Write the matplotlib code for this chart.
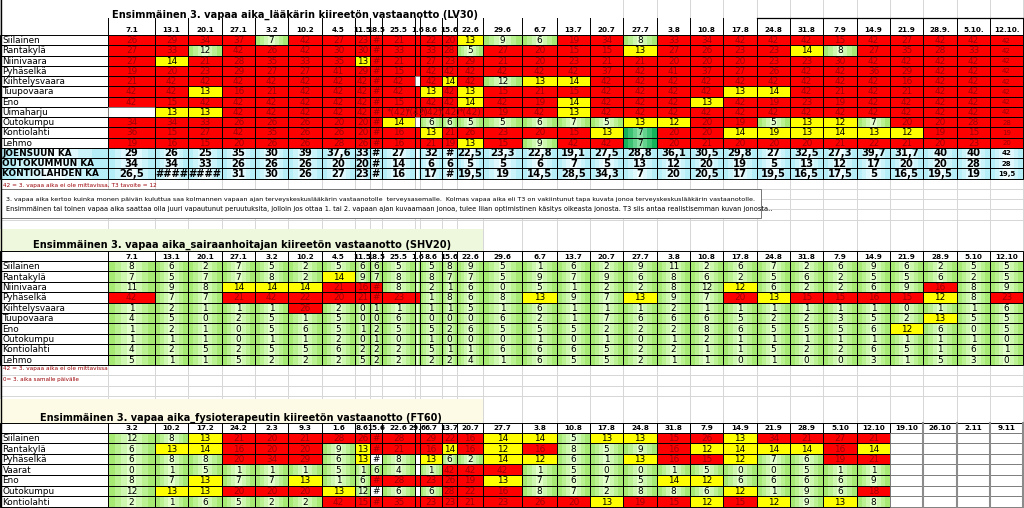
import matplotlib
matplotlib.use("Agg")
import matplotlib.pyplot as plt
import numpy as np
from matplotlib.colors import to_rgb
from matplotlib.patches import Rectangle
from matplotlib.transforms import Bbox

plt.rcParams["font.family"] = ["DejaVu Sans"]

# -----
# DATA
# -----
title_lv30 = "Ensimmäinen 3. vapaa aika_lääkärin kiireetön vastaanotto (LV30)"
title_shv20 = "Ensimmäinen 3. vapaa aika_sairaanhoitajan kiireetön vastaanotto (SHV20)"
title_ft60 = "Ensimmäinen 3. vapaa aika_fysioterapeutin kiireetön vastaanotto (FT60)"

dates_lv30 = ["7.1", "13.1", "20.1", "27.1", "3.2", "10.2", "4.5", "11.5", "18.5", "25.5", "1.6", "8.6", "15.6",
              "22.6", "29.6", "6.7", "13.7", "20.7", "27.7", "3.8", "10.8", "17.8", "24.8", "31.8", "7.9", "14.9",
              "21.9", "28.9.", "5.10.", "12.10."]
names_lv30 = ["Siilainen", "Rantakylä", "Niinivaara", "Pyhäselkä", "Kiihtelysvaara", "Tuupovaara", "Eno",
              "Uimaharju", "Outokumpu", "Kontiolahti", "Lehmo"]
values_lv30 = [
    ["26", "29", "34", "37", "7", "42", "27", "23", "#", "21", "", "22", "20", "13", "9", "6", "19", "34", "8", "33", "34", "42", "42", "42", "15", "42", "27", "42", "42", "42"],
    ["27", "33", "12", "42", "26", "42", "30", "30", "#", "33", "", "33", "28", "5", "27", "20", "15", "15", "13", "27", "26", "23", "23", "14", "8", "27", "35", "28", "33", "42"],
    ["27", "14", "21", "28", "35", "33", "35", "13", "#", "21", "", "27", "23", "29", "21", "20", "23", "21", "21", "20", "20", "20", "23", "23", "30", "42", "42", "42", "42", "42"],
    ["19", "20", "23", "29", "27", "27", "41", "29", "#", "15", "", "42", "42", "42", "42", "42", "42", "37", "42", "41", "37", "27", "26", "42", "42", "36", "29", "42", "42", "42"],
    ["21", "42", "42", "42", "42", "42", "42", "42", "#", "42", None, "42", "14", "42", "12", "13", "14", "42", "42", "42", "42", "42", "42", "42", "42", "42", "16", "42", "42", "42"],
    ["42", "42", "13", "16", "21", "42", "42", "42", "#", "42", "", "13", "42", "13", "15", "21", "15", "42", "42", "42", "42", "13", "14", "42", "21", "42", "21", "42", "42", "42"],
    ["42", "15", "42", "42", "42", "42", "42", "42", "#", "15", "", "42", "42", "14", "42", "19", "14", "42", "42", "42", "13", "42", "19", "23", "19", "42", "42", "42", "42", "42"],
    [None, "13", "13", "42", "42", "42", "42", "42", "#", "*(42)", "*(42)", "*(42)", "*(42)", "*(42)", "19", "42", "13", "42", "42", "42", "42", "42", "42", "42", "42", "42", "42", "42", "42", "42"],
    ["34", "34", "33", "26", "26", "26", "20", "20", "#", "14", None, "6", "6", "5", "5", "6", "7", "5", "13", "12", "20", "19", "5", "13", "12", "7", "20", "20", "28", "28"],
    ["36", "15", "27", "42", "35", "26", "26", "20", "#", "16", "", "13", "21", "26", "23", "20", "15", "13", "7", "20", "20", "14", "19", "13", "14", "13", "12", "19", "15", "19"],
    ["19", "16", "15", "20", "26", "26", "28", "26", "#", "16", "", "21", "19", "13", "15", "9", "42", "42", "7", "20", "21", "20", "20", "20", "21", "22", "21", "20", "23", "20"],
]
names_ka = ["JOENSUUN KA", "OUTOKUMMUN KA", "KONTIOLAHDEN KA"]
values_ka = [
    ["29", "26", "25", "35", "30", "39", "37,6", "33", "#", "27", "", "32", "#", "22,5", "23,3", "22,8", "19,1", "27,5", "28,8", "36,1", "30,5", "29,8", "27", "32,5", "27,3", "39,7", "31,7", "40", "40", "42"],
    ["34", "34", "33", "26", "26", "26", "20", "20", "#", "14", "", "6", "6", "5", "5", "6", "7", "5", "13", "12", "20", "19", "5", "13", "12", "17", "20", "20", "28", "28"],
    ["26,5", "####", "####", "31", "30", "26", "27", "23", "#", "16", "", "17", "#", "19,5", "19", "14,5", "28,5", "34,3", "7", "20", "20,5", "17", "19,5", "16,5", "17,5", "5", "16,5", "19,5", "19", "19,5"],
]

dates_shv20 = ["7.1", "13.1", "20.1", "27.1", "3.2", "10.2", "4.5", "11.5", "18.5", "25.5", "1.6", "8.6", "15.6",
               "22.6", "29.6", "6.7", "13.7", "20.7", "27.7", "3.8", "10.8", "17.8", "24.8", "31.8", "7.9", "14.9",
               "21.9", "28.9", "5.10", "12.10"]
names_shv20 = ["Siilainen", "Rantakylä", "Niinivaara", "Pyhäselkä", "Kiihtelysvaara", "Tuupovaara", "Eno",
               "Outokumpu", "Kontiolahti", "Lehmo"]
values_shv20 = [
    ["8", "6", "2", "7", "5", "2", "5", "6", "6", "5", "", "5", "8", "9", "5", "1", "6", "2", "9", "11", "2", "6", "7", "2", "6", "9", "6", "2", "5", "5"],
    ["7", "5", "7", "7", "8", "2", "14", "9", "7", "8", "", "8", "7", "7", "5", "9", "7", "9", "6", "8", "6", "2", "5", "6", "2", "5", "5", "6", "2", "5"],
    ["11", "9", "8", "14", "14", "14", "21", "16", "#", "8", "", "2", "1", "6", "0", "5", "1", "2", "2", "8", "12", "12", "6", "2", "2", "6", "9", "16", "8", "9"],
    ["42", "7", "7", "21", "42", "22", "20", "21", "#", "23", "", "1", "8", "6", "8", "13", "9", "7", "13", "9", "7", "20", "13", "15", "15", "16", "15", "12", "8", "23"],
    ["1", "2", "1", "1", "1", "26", "2", "0", "1", "1", "", "1", "1", "5", "1", "6", "1", "1", "1", "2", "1", "1", "1", "1", "1", "1", "0", "1", "1", "6"],
    ["4", "5", "0", "2", "5", "1", "5", "0", "0", "6", "", "0", "0", "0", "6", "2", "1", "7", "6", "6", "6", "5", "2", "2", "3", "5", "2", "13", "5", "5"],
    ["1", "2", "1", "0", "5", "6", "5", "1", "2", "5", "", "5", "2", "6", "5", "5", "5", "2", "2", "2", "8", "6", "5", "5", "5", "6", "12", "6", "0", "5"],
    ["1", "1", "1", "0", "1", "1", "2", "0", "1", "0", "", "1", "0", "0", "0", "1", "0", "1", "0", "1", "2", "1", "1", "1", "1", "1", "1", "1", "1", "0"],
    ["4", "2", "5", "2", "5", "5", "6", "2", "2", "2", "", "5", "1", "1", "6", "6", "6", "5", "2", "2", "1", "1", "5", "2", "2", "6", "5", "1", "6", "1"],
    ["5", "1", "1", "5", "2", "2", "2", "5", "2", "2", "", "2", "2", "4", "1", "6", "5", "5", "2", "1", "1", "0", "1", "0", "0", "3", "1", "5", "3", "0"],
]

dates_ft60 = ["3.2", "10.2", "17.2", "24.2", "2.3", "9.3", "1.6", "8.6", "15.6", "22.6", "29.6", "6.7", "13.7",
              "20.7", "27.7", "3.8", "10.8", "17.8", "24.8", "31.8", "7.9", "14.9", "21.9", "28.9", "5.10", "12.10",
              "19.10", "26.10", "2.11", "9.11"]
names_ft60 = ["Siilainen", "Rantakylä", "Pyhäselkä", "Vaarat", "Eno", "Outokumpu", "Kontiolahti"]
values_ft60 = [
    ["12", "8", "13", "21", "20", "21", "28", "26", "#", "28", "", "29", "22", "16", "14", "14", "5", "13", "13", "15", "26", "13", "34", "21", "27", "21", None, None, None, None],
    ["6", "13", "14", "16", "20", "20", "9", "13", "#", "21", "", "16", "14", "16", "12", "16", "8", "5", "9", "16", "12", "14", "14", "14", "16", "14", None, None, None, None],
    ["6", "8", "8", "20", "34", "29", "6", "13", "#", "8", "", "13", "6", "2", "14", "12", "6", "1", "13", "16", "15", "12", "7", "6", "19", "21", None, None, None, None],
    ["0", "1", "5", "1", "1", "1", "5", "1", "6", "4", "", "1", "42", "42", "42", "1", "5", "0", "0", "1", "5", "0", "0", "5", "1", "1", None, None, None, None],
    ["8", "7", "13", "7", "7", "13", "1", "6", "#", "28", "", "23", "26", "19", "13", "7", "6", "7", "5", "14", "12", "6", "6", "6", "6", "9", None, None, None, None],
    ["12", "13", "13", "20", "20", "20", "13", "12", "#", "6", "", "6", "28", "22", "16", "8", "7", "2", "8", "8", "6", "12", "1", "9", "6", "18", None, None, None, None],
    ["2", "1", "6", "5", "2", "2", "42", "15", "#", "35", "", "23", "23", "21", "23", "26", "20", "13", "19", "15", "12", "15", "12", "9", "13", "8", None, None, None, None],
]

note_lv30 = "42 = 3. vapaa aika ei ole mittavissa, T3 tavoite = 12"
info_lines = [
    "3. vapaa aika kertoo kuinka monen päivän kuluttua saa kolmannen vapaan ajan terveyskeskuslääkärin vastaanotolle  terveysasemalle.  Kolmas vapaa aika eli T3 on vakiintunut tapa kuvata jonoa terveyskeskuslääkärin vastaanotolle.",
    "Ensimmäinen tai toinen vapaa aika saattaa olla juuri vapautunut peruutuksita, jolloin jos ottaa 1. tai 2. vapaan ajan kuvaamaan jonoa, tulee liian optimistinen käsitys oikeasta jonosta. T3 siis antaa realistisemman kuvan jonosta..",
]
notes_shv20 = ["42 = 3. vapaa aika ei ole mittavissa", "0= 3. aika samalle päivälle"]

# cells whose fill differs from the value rule
overrides_lv30 = {(9, 22): "y", (9, 18): "G", (10, 18): "G"}
overrides_shv20 = {(3, 10): "r"}
overrides_ft60 = {(2, 8): "w", (5, 8): "w", (2, 10): "w", (3, 10): "w", (5, 10): "w"}


# -------
# LAYOUT
# -------
COL_X = [0, 108, 155, 188, 222, 255, 288, 322, 355, 370, 382, 415, 420, 442, 457, 483, 522, 557, 590, 623,
         657, 690, 723, 757, 790, 823, 857, 890, 923, 957, 990, 1023]

SOLID = {"r": "#ff0000", "y": "#ffff00", "w": "#ffffff"}
GRADIENT = {"g": ("#a6ea74", "#e2ffcc"), "G": ("#16b25a", "#8ce2a6"), "b": ("#b6eef8", "#f2fdff")}
TEXT_RED = "#9c0006"

fig = plt.figure(figsize=(10.24, 5.08), dpi=100)
ax = fig.add_axes([0, 0, 1, 1])
ax.set_xlim(0, 1024)
ax.set_ylim(508, 0)
ax.set_autoscale_on(False)
ax.axis("off")
renderer = fig.canvas.get_renderer()


def to_number(val):
    try:
        return float(val.replace(",", "."))
    except (AttributeError, ValueError):
        return None


def fill_code(val, col, yellow12_from, blank_code):
    if val is None:
        return "w"
    if val == "":
        return blank_code
    v = to_number(val)
    if v is None or v >= 15:
        return "r"
    if v >= 13 or (v >= 12 and col >= yellow12_from):
        return "y"
    return "g"


def paint(x0, x1, y0, y1, code):
    if code in GRADIENT:
        # stepped horizontal gradient: saturated edges, pale centre
        edge, center = [np.array(to_rgb(c)) for c in GRADIENT[code]]
        w = x1 - x0
        for k, inset in enumerate([0, 0.15, 0.28, 0.4]):
            c = edge + (center - edge) * k / 3
            ax.add_patch(Rectangle((x0 + inset * w, y0), w * (1 - 2 * inset), y1 - y0,
                                   facecolor=c, edgecolor="none", zorder=1))
    else:
        ax.add_patch(Rectangle((x0, y0), x1 - x0, y1 - y0, facecolor=SOLID[code], edgecolor="none", zorder=1))


def border(x0, x1, y0, y1, color="black", lw=0.7):
    ax.add_patch(Rectangle((x0, y0), x1 - x0, y1 - y0, fill=False, edgecolor=color, linewidth=lw, zorder=2))


def clipped_text(x0, x1, y0, y1, s, **kw):
    t = ax.text((x0 + x1) / 2, (y0 + y1) / 2 + 0.6, s, ha="center", va="center", zorder=3, **kw)
    p = ax.transData.transform([[x0, y0], [x1, y1]])
    t.set_clip_box(Bbox.from_extents(p[:, 0].min(), p[:, 1].min(), p[:, 0].max(), p[:, 1].max()))
    return t


def fit_text(x, y, s, width, **kw):
    t = ax.text(x, y, s, fontsize=10, zorder=3, **kw)
    w = t.get_window_extent(renderer=renderer).width
    t.set_fontsize(10 * width / w)
    return t


def draw_rows(names, rows, top, row_h, yellow12_from, blank_code, overrides, small_last=False, ka=False):
    for i, (name, row) in enumerate(zip(names, rows)):
        y0 = top + i * row_h
        y1 = y0 + row_h
        paint(0, COL_X[1], y0, y1, "b" if ka else "w")
        border(0, COL_X[1], y0, y1)
        ax.text(2.5, (y0 + y1) / 2 + 0.6, name, ha="left", va="center", fontsize=6.4,
                fontweight="bold" if ka else "normal", zorder=3)
        for j, val in enumerate(row):
            x0, x1 = COL_X[j + 1], COL_X[j + 2]
            if ka:
                code = "b"
            else:
                code = overrides.get((i, j), fill_code(val, j, yellow12_from, blank_code))
            paint(x0, x1, y0, y1, code)
            border(x0, x1, y0, y1, color="#808080" if val is None else "black")
            if val:
                size = 7.2 if ka else 6.4
                if small_last and j == len(row) - 1:
                    size = 5.0
                clipped_text(x0, x1, y0, y1, val, fontsize=size, fontweight="bold" if ka else "normal",
                             color=TEXT_RED if code == "r" and not ka else "black")


def draw_header(dates, y0, y1, boxed):
    for j, d in enumerate(dates):
        x0, x1 = COL_X[j + 1], COL_X[j + 2]
        if boxed:
            border(x0, x1, y0, y1)
        clipped_text(x0, x1, y0, y1, d, fontsize=5.2, fontweight="bold")


# sheet gridlines
for x in COL_X:
    ax.plot([x, x], [0, 508], color="#d6d6d6", linewidth=0.7, zorder=0)
for y in np.arange(178.5 + 10.25, 229, 10.25):
    ax.plot([0, 1024], [y, y], color="#d6d6d6", linewidth=0.7, zorder=0)
for y in np.arange(365 + 10.4, 400, 10.4):
    ax.plot([0, 1024], [y, y], color="#d6d6d6", linewidth=0.7, zorder=0)
ax.add_patch(Rectangle((100, 0), 500, 18, facecolor="white", edgecolor="none", zorder=0.5))
ax.plot([0.5, 0.5], [0, 508], color="black", linewidth=1.0, zorder=4)

# -------------------
# LV30 (doctor) table
# -------------------
fit_text(112, 17.3, title_lv30, 366, fontweight="bold", va="baseline")
head_top, head_bot, row_h = 18, 35, 10.25
for x in COL_X[1:]:
    ax.plot([x, x], [head_top, head_bot], color="black", linewidth=0.7, zorder=2)
ax.plot([COL_X[23], COL_X[31]], [head_top, head_top], color="black", linewidth=0.9, zorder=2)
for j, d in enumerate(dates_lv30):
    clipped_text(COL_X[j + 1], COL_X[j + 2], 24, 35, d, fontsize=5.2, fontweight="bold")
draw_rows(names_lv30, values_lv30, head_bot, row_h, 17, "r", overrides_lv30, small_last=True)
draw_rows(names_ka, values_ka, head_bot + len(names_lv30) * row_h, row_h, 17, "b", {}, small_last=True, ka=True)
fit_text(3, 186.5, note_lv30, 152, color=TEXT_RED, va="baseline")

# info box
ax.add_patch(Rectangle((1, 189), 760, 29, facecolor="white", edgecolor="#606060", linewidth=0.6, zorder=1))
fit_text(6, 200.5, info_lines[0], 742, va="baseline")
fit_text(6, 211, info_lines[1], 742 * len(info_lines[1]) / len(info_lines[0]), va="baseline")

# -------------------
# SHV20 (nurse) table
# -------------------
ax.add_patch(Rectangle((0, 229), COL_X[15], 22, facecolor="#eef8dc", edgecolor="none", zorder=0.5))
fit_text(33, 248, title_shv20, 417, fontweight="bold", va="baseline")
border(0, COL_X[1], 251, 261)
draw_header(dates_shv20, 251, 261, True)
draw_rows(names_shv20, values_shv20, 261, 10.4, 21, "g", overrides_shv20)
fit_text(3, 370, notes_shv20[0], 104, color=TEXT_RED, va="baseline")
fit_text(3, 380.5, notes_shv20[1], 77, color=TEXT_RED, va="baseline")

# ----------------------------
# FT60 (physiotherapist) table
# ----------------------------
ax.add_patch(Rectangle((0, 399), COL_X[15], 24, facecolor="#fdfbe6", edgecolor="none", zorder=0.5))
fit_text(40, 421, title_ft60, 403, fontweight="bold", va="baseline")
border(0, COL_X[1], 423, 432.5)
draw_header(dates_ft60, 423, 432.5, True)
draw_rows(names_ft60, values_ft60, 432.5, 10.6, 8, "r", overrides_ft60)
# heavier gray separators around the still empty weeks
for x in COL_X[28:]:
    ax.plot([x, x], [423, 508], color="#8c8c8c", linewidth=1.5, zorder=2.5)

plt.savefig("out.png", dpi=100)
plt.close()
